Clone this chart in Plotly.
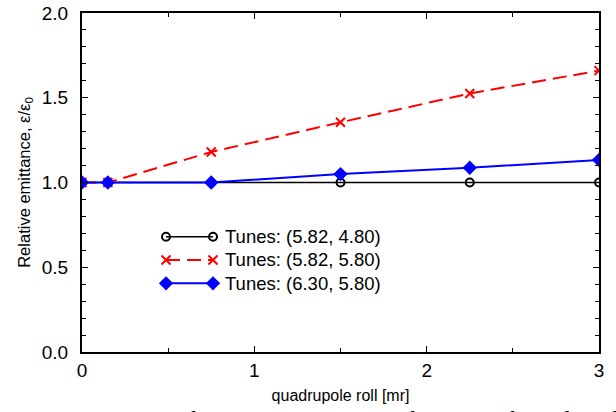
import plotly.graph_objects as go

# quadrupole roll values [mr]
roll = [0, 0.15, 0.75, 1.5, 2.25, 3]

# relative emittance for each working point
tunes_582_480 = [1.0, 1.0, 1.0, 1.0, 1.0, 1.0]
tunes_582_580 = [1.0, 1.0, 1.18, 1.355, 1.525, 1.66]
tunes_630_580 = [1.0, 1.0, 1.0, 1.05, 1.087, 1.133]

names = ["Tunes: (5.82, 4.80)", "Tunes: (5.82, 5.80)", "Tunes: (6.30, 5.80)"]

FONT = "Liberation Sans, Arial, sans-serif"

styles = [
    dict(line=dict(color="black", width=1.5),
         marker=dict(symbol="circle-open", size=8, color="black", line=dict(width=2))),
    dict(line=dict(color="#ff0000", width=2, dash="14px,7px"),
         marker=dict(symbol="x-thin-open", size=9, color="#ff0000", line=dict(width=2, color="#ff0000"))),
    dict(line=dict(color="#0000ff", width=2),
         marker=dict(symbol="diamond", size=11, color="#0000ff")),
]
series = [tunes_582_480, tunes_582_580, tunes_630_580]

fig = go.Figure()
for name, ys, st in zip(names, series, styles):
    fig.add_trace(go.Scatter(x=roll, y=ys, name=name, mode="lines+markers",
                             showlegend=False, **st))

# legend keys: short line with a marker at each end, drawn on an overlay axis in [0, 1]
key_x = [0.1625, 0.2534]
key_rows = [0.340, 0.2714, 0.2027]
for name, row, st in zip(names, key_rows, styles):
    fig.add_trace(go.Scatter(x=key_x, y=[row, row], mode="lines+markers",
                             xaxis="x2", yaxis="y2", showlegend=False,
                             hoverinfo="skip", **st))
    fig.add_annotation(text=name, xref="paper", yref="paper", x=0.2727, y=row,
                       xanchor="left", yanchor="middle", showarrow=False,
                       font=dict(family=FONT, size=18.5, color="black"))

axis_common = dict(
    showline=True, linecolor="black", linewidth=2, mirror="allticks",
    ticks="inside", ticklen=6, tickwidth=1, tickcolor="black",
    showgrid=False, zeroline=False, automargin=False,
    tickfont=dict(family=FONT, size=19, color="black"),
)

fig.update_xaxes(
    range=[0, 3], tickvals=[0, 1, 2, 3], ticktext=["0", "1", "2", "3"],
    minor=dict(ticks="inside", ticklen=4, tickcolor="black", dtick=0.5, showgrid=False),
    title=dict(text="quadrupole roll [mr]", font=dict(family=FONT, size=16, color="black"), standoff=10),
    ticklabelstandoff=0,
    **axis_common,
)
fig.update_yaxes(
    range=[0, 2], tickvals=[0, 0.5, 1.0, 1.5, 2.0], ticktext=["0.0", "0.5", "1.0", "1.5", "2.0"],
    minor=dict(ticks="inside", ticklen=4, tickcolor="black", dtick=0.1, showgrid=False),
    title=dict(text="Relative emittance, ε/ε<sub>0</sub>", font=dict(family=FONT, size=16.5, color="black"), standoff=7),
    ticklabelstandoff=8,
    **axis_common,
)

fig.add_annotation(
    text="Figure    9:     Cumulative  emittance  as  a  function  of  quadrupole  roll",
    xref="paper", yref="paper", x=-0.153, y=-0.156, xanchor="left", yanchor="top",
    showarrow=False, font=dict(family="Liberation Serif, Times New Roman, serif", size=23, color="black"),
)

fig.update_layout(
    width=616, height=412,
    margin=dict(l=82, r=17, t=13, b=60),
    paper_bgcolor="white", plot_bgcolor="white",
    showlegend=False,
    xaxis2=dict(overlaying="x", range=[0, 1], visible=False),
    yaxis2=dict(overlaying="y", range=[0, 1], visible=False),
)

fig.write_html("out.html")
